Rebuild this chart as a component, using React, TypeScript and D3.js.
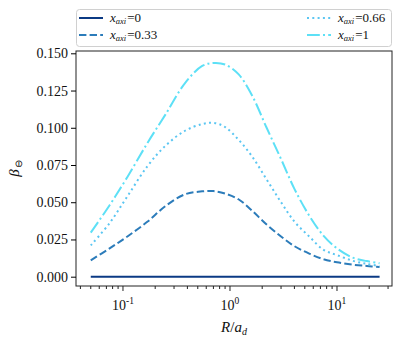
import React, { useEffect, useRef } from 'react';
import * as d3 from 'd3';

// R / a_d sample points
const radii = [0.05, 0.075, 0.11, 0.17, 0.25, 0.38, 0.55, 0.7, 0.9, 1.2, 1.6, 2.2, 3, 4, 5.5, 7.5, 10, 14, 19, 25];

const beta0 = [0, 0, 0, 0, 0, 0, 0, 0, 0, 0, 0, 0, 0, 0, 0, 0, 0, 0, 0, 0];
const beta033 = [0.011, 0.019, 0.027, 0.037, 0.0475, 0.0553, 0.0573, 0.0575, 0.0558, 0.052, 0.0445, 0.035, 0.027, 0.0205, 0.0155, 0.0117, 0.0097, 0.0081, 0.0072, 0.0065];
const beta066 = [0.021, 0.036, 0.054, 0.0744, 0.088, 0.098, 0.1025, 0.1033, 0.1005, 0.092, 0.081, 0.0653, 0.050, 0.037, 0.027, 0.018, 0.0145, 0.0107, 0.0086, 0.0072];
const beta1 = [0.0296, 0.048, 0.067, 0.090, 0.109, 0.130, 0.1415, 0.1435, 0.1425, 0.136, 0.122, 0.100, 0.079, 0.059, 0.041, 0.0274, 0.019, 0.0128, 0.0105, 0.009];

const seriesLabels = ['0', '0.33', '0.66', '1'];
const yTicks = [0, 0.025, 0.05, 0.075, 0.1, 0.125, 0.15];
const xTicks = [0.1, 1, 10];
const xTickExp = ['-1', '0', '1'];

const App = () => {
  const ref = useRef<SVGSVGElement>(null);

  useEffect(() => {
    const width = 407;
    const height = 348;
    const margin = { top: 51, right: 15, bottom: 62, left: 76 };
    const serif = '"Liberation Serif", "Times New Roman", serif';

    const svg = d3.select(ref.current);
    svg.selectAll('*').remove();

    const x = d3
      .scaleLog()
      .domain([Math.pow(10, -1.439), Math.pow(10, 1.514)])
      .range([margin.left, width - margin.right]);

    const y = d3
      .scaleLinear()
      .domain([-0.00625, 0.15155])
      .range([height - margin.bottom, margin.top]);

    const series = [
      { values: beta0, color: '#0b3a84', dash: null },
      { values: beta033, color: '#2c7cba', dash: '7.4,3.2' },
      { values: beta066, color: '#5bc6f2', dash: '2,3.3' },
      { values: beta1, color: '#5de0f6', dash: '12.8,3.2,2,3.2' },
    ];

    const line = d3
      .line<number>()
      .x((_, i) => x(radii[i]))
      .y((d) => y(d))
      .curve(d3.curveCatmullRom.alpha(0.5));

    series.forEach((s) => {
      svg
        .append('path')
        .attr('d', line(s.values))
        .attr('fill', 'none')
        .attr('stroke', s.color)
        .attr('stroke-width', 2)
        .attr('stroke-dasharray', s.dash);
    });

    // frame
    svg
      .append('rect')
      .attr('x', margin.left)
      .attr('y', margin.top)
      .attr('width', width - margin.left - margin.right)
      .attr('height', height - margin.top - margin.bottom)
      .attr('fill', 'none')
      .attr('stroke', '#222')
      .attr('stroke-width', 1);

    // y axis
    const yAxis = svg
      .append('g')
      .attr('transform', `translate(${margin.left},0)`)
      .call(d3.axisLeft(y).tickValues(yTicks).tickFormat(d3.format('.3f')).tickSize(5).tickPadding(3));
    yAxis.select('.domain').remove();
    yAxis.selectAll('text').attr('font-family', serif).attr('font-size', 14).attr('fill', '#111');

    // x axis: majors + minors
    const bottom = height - margin.bottom;
    const minors: number[] = [];
    for (let e = -2; e <= 1; e++) {
      for (let k = 2; k <= 9; k++) {
        const v = k * Math.pow(10, e);
        if (v >= x.domain()[0] && v <= x.domain()[1]) minors.push(v);
      }
    }
    svg
      .append('g')
      .selectAll('line')
      .data(minors)
      .join('line')
      .attr('x1', (d) => x(d))
      .attr('x2', (d) => x(d))
      .attr('y1', bottom)
      .attr('y2', bottom + 3)
      .attr('stroke', '#222');
    svg
      .append('g')
      .selectAll('line')
      .data(xTicks)
      .join('line')
      .attr('x1', (d) => x(d))
      .attr('x2', (d) => x(d))
      .attr('y1', bottom)
      .attr('y2', bottom + 5)
      .attr('stroke', '#222');
    const xl = svg
      .append('g')
      .selectAll('text')
      .data(xTicks)
      .join('text')
      .attr('x', (d) => x(d))
      .attr('y', bottom + 24)
      .attr('text-anchor', 'middle')
      .attr('font-family', serif)
      .attr('font-size', 14)
      .attr('fill', '#111');
    xl.append('tspan').text('10');
    xl.append('tspan')
      .attr('dy', -6)
      .attr('font-size', 9.5)
      .text((_, i) => xTickExp[i]);

    // axis labels
    const xLab = svg
      .append('text')
      .attr('x', (margin.left + width - margin.right) / 2)
      .attr('y', 332)
      .attr('text-anchor', 'middle')
      .attr('font-family', serif)
      .attr('font-size', 15)
      .attr('fill', '#111');
    xLab.append('tspan').attr('font-style', 'italic').text('R');
    xLab.append('tspan').text('/');
    xLab.append('tspan').attr('font-style', 'italic').text('a');
    xLab.append('tspan').attr('font-style', 'italic').attr('font-size', 10).attr('dy', 3).text('d');

    const yLab = svg
      .append('text')
      .attr('transform', `translate(19,${(margin.top + bottom) / 2}) rotate(-90)`)
      .attr('text-anchor', 'middle')
      .attr('font-family', serif)
      .attr('font-size', 15)
      .attr('fill', '#111');
    yLab.append('tspan').attr('font-style', 'italic').text('β');
    yLab.append('tspan').attr('font-size', 10).attr('dy', 3).attr('dx', 1).text('⊖');

    // legend
    const lg = svg.append('g');
    lg.append('rect')
      .attr('x', 76.5)
      .attr('y', 9.5)
      .attr('width', 315)
      .attr('height', 37)
      .attr('rx', 3)
      .attr('fill', 'white')
      .attr('fill-opacity', 0.8)
      .attr('stroke', '#d0d0d0');
    const pos = [
      { x: 79, y: 18 },
      { x: 79, y: 35 },
      { x: 307, y: 18 },
      { x: 307, y: 35 },
    ];
    series.forEach((s, i) => {
      const p = pos[i];
      lg.append('line')
        .attr('x1', p.x)
        .attr('x2', p.x + 24)
        .attr('y1', p.y)
        .attr('y2', p.y)
        .attr('stroke', s.color)
        .attr('stroke-width', 2)
        .attr('stroke-dasharray', s.dash);
      const t = lg
        .append('text')
        .attr('x', p.x + 31)
        .attr('y', p.y + 4)
        .attr('font-family', serif)
        .attr('font-size', 13)
        .attr('fill', '#111');
      t.append('tspan').attr('font-style', 'italic').text('x');
      t.append('tspan').attr('font-style', 'italic').attr('font-size', 8.5).attr('dy', 2).text('axi');
      t.append('tspan').attr('dy', -2).attr('dx', 1).text('=' + seriesLabels[i]);
    });
  }, []);

  return <svg ref={ref} width={407} height={348} style={{ display: 'block', position: 'absolute', left: 0, top: 0 }} />;
};

export default App;
